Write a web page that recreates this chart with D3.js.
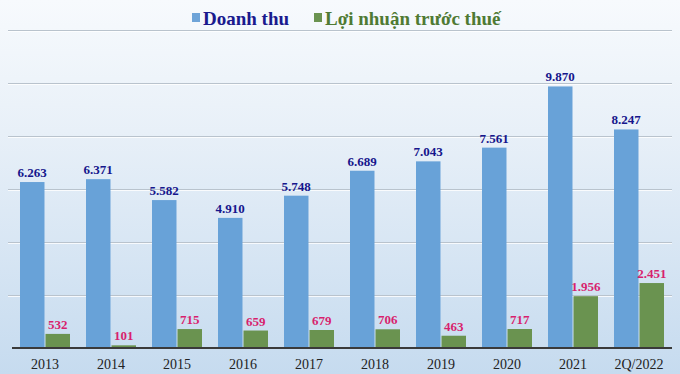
<!DOCTYPE html>
<html>
<head>
<meta charset="utf-8">
<script src="https://cdn.jsdelivr.net/npm/d3@7"></script>
<style>
  html, body { margin: 0; padding: 0; background: #fff; }
  svg { display: block; }
</style>
</head>
<body>
<svg id="chart" width="680" height="374"></svg>
<script>
// data
const categories = ['2013', '2014', '2015', '2016', '2017', '2018', '2019', '2020', '2021', '2Q/2022'];
const revenue = [6263, 6371, 5582, 4910, 5748, 6689, 7043, 7561, 9870, 8247];
const profit = [532, 101, 715, 659, 679, 706, 463, 717, 1956, 2451];
const seriesNames = ['Doanh thu', 'Lợi nhuận trước thuế'];

const svg = d3.select('#chart');
const width = 680, height = 374;
const plotLeft = 12, plotRight = 672, plotTop = 30, plotBottom = 348;

const vn = d3.formatLocale({ decimal: ',', thousands: '.', grouping: [3], currency: ['', ''] });
const fmt = vn.format(',d');

// background gradient
const defs = svg.append('defs');
const grad = defs.append('linearGradient').attr('id', 'bg').attr('x1', 0).attr('y1', 0).attr('x2', 0).attr('y2', 1);
grad.append('stop').attr('offset', '0%').attr('stop-color', '#f7fafd');
grad.append('stop').attr('offset', '35%').attr('stop-color', '#e8f0f8');
grad.append('stop').attr('offset', '100%').attr('stop-color', '#c6dbef');
svg.append('rect').attr('width', width).attr('height', height).attr('fill', 'url(#bg)');

const x = d3.scaleBand().domain(categories).range([plotLeft, plotRight]);
const inner = d3.scaleBand().domain(['rev', 'profit']).range([8, 58]).paddingInner(0.04);
const y = d3.scaleLinear().domain([0, 12000]).range([plotBottom, plotTop]);

// gridlines
const grid = svg.append('g').attr('class', 'grid');
y.ticks(6).filter(d => d > 0).forEach(t => {
  grid.append('line').attr('x1', plotLeft - 4).attr('x2', plotRight).attr('y1', y(t) + 1.5).attr('y2', y(t) + 1.5)
    .attr('stroke', '#ffffff').attr('stroke-opacity', 0.8);
  grid.append('line').attr('x1', plotLeft - 4).attr('x2', plotRight).attr('y1', y(t) + 0.5).attr('y2', y(t) + 0.5)
    .attr('stroke', '#b9c3cd');
});

// bars
const groups = svg.selectAll('g.cat').data(categories).join('g')
  .attr('class', 'cat')
  .attr('transform', d => 'translate(' + x(d) + ',0)');

groups.append('rect')
  .attr('x', inner('rev'))
  .attr('y', (d, i) => y(revenue[i]))
  .attr('width', inner.bandwidth())
  .attr('height', (d, i) => plotBottom - y(revenue[i]))
  .attr('fill', '#68a2d8');

groups.append('rect')
  .attr('x', inner('profit'))
  .attr('y', (d, i) => y(profit[i]))
  .attr('width', inner.bandwidth())
  .attr('height', (d, i) => plotBottom - y(profit[i]))
  .attr('fill', '#6a9350');

// value labels
groups.append('text')
  .attr('x', inner('rev') + inner.bandwidth() / 2)
  .attr('y', (d, i) => y(revenue[i]) - 5)
  .attr('text-anchor', 'middle')
  .attr('font-family', '"Liberation Serif", "Times New Roman", serif')
  .attr('font-weight', 'bold')
  .attr('font-size', 13)
  .attr('fill', '#16168c')
  .text((d, i) => fmt(revenue[i]));

groups.append('text')
  .attr('x', inner('profit') + inner.bandwidth() / 2)
  .attr('y', (d, i) => y(profit[i]) - 5)
  .attr('text-anchor', 'middle')
  .attr('font-family', '"Liberation Serif", "Times New Roman", serif')
  .attr('font-weight', 'bold')
  .attr('font-size', 13)
  .attr('fill', '#d81f6e')
  .text((d, i) => fmt(profit[i]));

// x axis
const xAxis = svg.append('g')
  .attr('transform', 'translate(0,' + plotBottom + ')')
  .call(d3.axisBottom(x).tickSize(0).tickPadding(11));
xAxis.select('.domain').attr('stroke', '#3a3a3a').attr('stroke-width', 2).attr('d', 'M' + plotLeft + ',0H' + plotRight);
xAxis.selectAll('text')
  .attr('font-family', '"Liberation Serif", "Times New Roman", serif')
  .attr('font-size', 14)
  .attr('fill', '#222');

// legend
const legend = svg.append('g').attr('font-family', '"Liberation Serif", "Times New Roman", serif')
  .attr('font-weight', 'bold').attr('font-size', 19);
const legendItems = [
  { name: seriesNames[0], x: 192, box: '#6ea4d8', color: '#1a1a8e' },
  { name: seriesNames[1], x: 314, box: '#6a9350', color: '#4f7a33' }
];
legendItems.forEach(it => {
  legend.append('rect').attr('x', it.x).attr('y', 13).attr('width', 8).attr('height', 9).attr('fill', it.box);
  legend.append('text').attr('x', it.x + 11).attr('y', 25).attr('fill', it.color).text(it.name);
});
</script>
</body>
</html>
